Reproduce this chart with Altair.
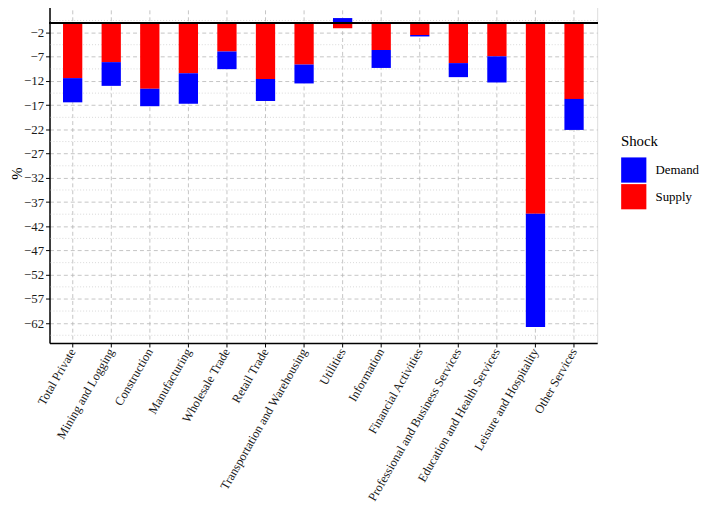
import altair as alt
import pandas as pd

categories = [
    "Total Private", "Mining and Logging", "Construction", "Manufacturing",
    "Wholesale Trade", "Retail Trade", "Transportation and Warehousing",
    "Utilities", "Information", "Financial Activities",
    "Professional and Business Services", "Education and Health Services",
    "Leisure and Hospitality", "Other Services",
]
supply = [-11.4, -8.1, -13.6, -10.4, -5.9, -11.6, -8.6, -1.1, -5.6, -2.5, -8.3, -6.9, -39.4, -15.7]
demand = [-5.0, -4.9, -3.6, -6.3, -3.65, -4.5, -3.9, 1.0, -3.7, -0.3, -2.9, -5.4, -23.4, -6.4]
shocks = ["Demand", "Supply"]
y_ticks = [-62, -57, -52, -47, -42, -37, -32, -27, -22, -17, -12, -7, -2]
y_minor = [-64.5, -59.5, -54.5, -49.5, -44.5, -39.5, -34.5, -29.5, -24.5, -19.5,
           -14.5, -9.5, -4.5, 0.5]

rows = []
for c, s, d in zip(categories, supply, demand):
    rows.append({"sector": c, "shock": "Supply", "value": s, "ord": 0})
    rows.append({"sector": c, "shock": "Demand", "value": d, "ord": 1})
df = pd.DataFrame(rows)
minor_df = pd.DataFrame({"y": y_minor})

FONT = "Liberation Serif"
y_scale = alt.Scale(domain=[-66.1, 4.12], nice=False, zero=False)
y_axis = alt.Axis(values=y_ticks, labelFontSize=13, labelFont=FONT,
                  labelColor="#1a1a1a", labelOverlap=False, labelFlush=False,
                  titleFont=FONT, titleFontSize=15,
                  titleFontWeight="normal", titleColor="black",
                  titleX=-33, titleY=172, titleAngle=270, titleAlign="center",
                  titleBaseline="middle",
                  domainColor="black", domainWidth=1.5,
                  tickColor="black", tickSize=4, labelPadding=2,
                  grid=True, gridDash=[4, 3], gridColor="#b5b5b5", gridWidth=0.8)

bars = alt.Chart(df).mark_bar().encode(
    x=alt.X("sector:N", sort=categories, title=None,
            scale=alt.Scale(paddingInner=0.5, paddingOuter=0.35),
            axis=alt.Axis(labelAngle=-60, labelAlign="right", labelBaseline="middle",
                          labelFontSize=12.5, labelFont=FONT, labelColor="#1a1a1a",
                          labelOverlap=False, labelLimit=0,
                          domainColor="black", domainWidth=1.5,
                          tickColor="black", tickSize=4, tickWidth=1,
                          labelPadding=2, bandPosition=0.5,
                          grid=True, gridDash=[4, 3], gridColor="#b5b5b5", gridWidth=0.8)),
    y=alt.Y("value:Q", stack="zero", scale=y_scale, title="%", axis=y_axis),
    color=alt.Color("shock:N", scale=alt.Scale(domain=shocks, range=["#0000FF", "#FF0000"]),
                    legend=alt.Legend(title="Shock", orient="none", legendX=578, legendY=133,
                                      titleFont=FONT, titleFontSize=15, titleFontWeight="normal",
                                      titleColor="black", titlePadding=8,
                                      labelFont=FONT, labelFontSize=13, labelColor="black",
                                      labelLimit=0,
                                      labelOffset=9, symbolType="square", symbolSize=650,
                                      symbolStrokeWidth=0, symbolOpacity=1, rowPadding=1)),
    order=alt.Order("ord:Q"),
)

minor = alt.Chart(minor_df).mark_rule(color="#cfcfcf", strokeDash=[1, 2], strokeWidth=0.8).encode(
    y=alt.Y("y:Q", scale=y_scale, title="%", axis=y_axis)
)

zero = alt.Chart(df).mark_rule(color="black", strokeWidth=1.5).encode(
    y=alt.Y(datum=0, scale=y_scale, title="%", axis=y_axis)
)

chart = alt.layer(minor, bars, zero).properties(
    width=554, height=344,
    autosize=alt.AutoSizeParams(type="none"),
    padding={"left": 42, "top": -8, "right": 104, "bottom": 165},
).configure_view(stroke=None).configure(font=FONT)

chart.save("out.html", embed_options={"renderer": "svg", "actions": False})
